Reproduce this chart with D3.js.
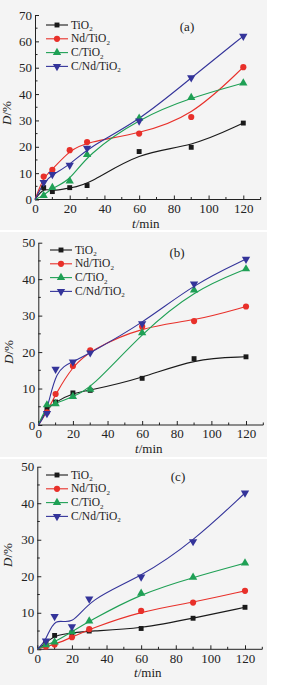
<!DOCTYPE html>
<html>
<head>
<meta charset="utf-8">
<script src="https://cdn.jsdelivr.net/npm/d3@7"></script>
<style>
  body { margin: 0; background: #fff; }
  text { font-family: "Liberation Serif", "Times New Roman", serif; }
</style>
</head>
<body>
<div id="chart"></div>
<script>
// time points (min)
var times = [0, 5, 10, 20, 30, 60, 90, 120];
var seriesNames = ["TiO2", "Nd/TiO2", "C/TiO2", "C/Nd/TiO2"];

// panel (a) D/%
var aTiO2   = [0, 4.5, 3.0, 4.5, 5.3, 18.2, 19.8, 29.0];
var aNd     = [0, 8.7, 11.3, 18.7, 21.8, 25.0, 31.3, 50.2];
var aC      = [0, 1.5, 4.5, 7.0, 17.0, 30.8, 38.7, 44.2];
var aCNd    = [0, 6.5, 9.5, 13.0, 19.5, 29.8, 46.2, 62.0];

// panel (b)
var bTiO2   = [0, 4.5, 6.3, 8.8, 9.5, 12.8, 18.2, 18.7];
var bNd     = [0, 3.5, 8.5, 16.2, 20.5, 27.0, 28.5, 32.5];
var bC      = [0, 5.5, 5.8, 7.8, 9.8, 25.3, 37.0, 42.8];
var bCNd    = [0, 3.2, 15.3, 17.3, 19.8, 27.8, 38.7, 45.5];

// panel (c)
var cTiO2   = [0, 1.8, 3.8, 4.5, 5.0, 5.7, 8.5, 11.5];
var cNd     = [0, 0.8, 1.3, 3.3, 5.5, 10.5, 12.8, 16.0];
var cC      = [0, 1.2, 2.0, 4.8, 7.7, 15.3, 19.7, 23.6];
var cCNd    = [0, 2.3, 9.0, 6.2, 13.8, 19.8, 29.5, 42.8];

var xTicks = [0, 20, 40, 60, 80, 100, 120];
var yTicksA = [0, 10, 20, 30, 40, 50, 60, 70];
var yTicksBC = [0, 10, 20, 30, 40, 50];

var colors = ["#1a1a1a", "#e8302a", "#1fa055", "#34349a"];
var symbols = [d3.symbolSquare, d3.symbolCircle, d3.symbolTriangle, "down"];

var panels = [
  {tag: "(a)", top: 0, h: 230, x0: 35, x1: 243.3, y0: 199.5, yTop: 15, yMax: 70, yTicks: yTicksA,
   data: [aTiO2, aNd, aC, aCNd], legX: 46, legY: 25, tagX: 187, tagY: 31, ylabY: 113, ylabX: 11},
  {tag: "(b)", top: 232, h: 225, x0: 38.3, x1: 246, y0: 425, yTop: 242.7, yMax: 50, yTicks: yTicksBC,
   data: [bTiO2, bNd, bC, bCNd], legX: 50, legY: 250, tagX: 177, tagY: 257, ylabY: 352, ylabX: 13},
  {tag: "(c)", top: 459, h: 226, x0: 37.3, x1: 245, y0: 649.3, yTop: 466.7, yMax: 50, yTicks: yTicksBC,
   data: [cTiO2, cNd, cC, cCNd], legX: 46, legY: 475, tagX: 178, tagY: 481, ylabY: 555, ylabX: 12}
];

var svg = d3.select("#chart").append("svg")
  .attr("width", 291)
  .attr("height", 685);

function addLabel(sel, name) {
  // writes name with subscript 2 on "O2"
  var parts = name.split("2");
  sel.append("tspan").text(parts[0]);
  sel.append("tspan").attr("font-size", "7px").attr("dy", 2.5).text("2");
}

function marker(g, i, cx, cy) {
  if (symbols[i] === "down") {
    g.append("path")
      .attr("d", d3.symbol().type(d3.symbolTriangle).size(30)())
      .attr("transform", "translate(" + cx + "," + cy + ") rotate(180)")
      .attr("fill", colors[i]);
  } else {
    var sz = i === 0 ? 24 : 30;
    g.append("path")
      .attr("d", d3.symbol().type(symbols[i]).size(sz)())
      .attr("transform", "translate(" + cx + "," + cy + ")")
      .attr("fill", colors[i]);
  }
}

panels.forEach(function(p) {
  var g = svg.append("g");

  // panel background
  g.append("rect")
    .attr("x", 0).attr("y", p.top)
    .attr("width", 267).attr("height", p.h)
    .attr("fill", "#f4f4f4");

  var x = d3.scaleLinear().domain([0, 120]).range([p.x0, p.x1]);
  var y = d3.scaleLinear().domain([0, p.yMax]).range([p.y0, p.yTop]);

  // x axis with inward ticks
  var xAxis = g.append("g").attr("transform", "translate(0," + p.y0 + ")");
  xAxis.call(d3.axisBottom(x).tickValues(xTicks).tickSize(-4).tickSizeOuter(0).tickPadding(4));
  xAxis.append("g").selectAll("line")
    .data(d3.range(10, 131, 20))
    .enter().append("line")
    .attr("x1", function(d) { return x(d); }).attr("x2", function(d) { return x(d); })
    .attr("y1", 0).attr("y2", -2.5)
    .attr("stroke", "#222");
  xAxis.select(".domain").attr("d", "M" + p.x0 + ",0H" + x(130));

  // y axis
  var yAxis = g.append("g").attr("transform", "translate(" + p.x0 + ",0)");
  yAxis.call(d3.axisLeft(y).tickValues(p.yTicks).tickSize(-4).tickSizeOuter(0).tickPadding(3));
  yAxis.append("g").selectAll("line")
    .data(d3.range(5, p.yMax, 10))
    .enter().append("line")
    .attr("y1", function(d) { return y(d); }).attr("y2", function(d) { return y(d); })
    .attr("x1", 0).attr("x2", 2.5)
    .attr("stroke", "#222");

  [xAxis, yAxis].forEach(function(a) {
    a.selectAll("text").attr("font-size", "13px").attr("fill", "#222")
      .attr("font-family", "'Liberation Serif', serif");
    a.selectAll("line").attr("stroke", "#222");
    a.select(".domain").attr("stroke", "#222");
  });

  // curves (B-spline look)
  var line = d3.line()
    .x(function(d, j) { return x(times[j]); })
    .y(function(d) { return y(d); })
    .curve(d3.curveBasis);

  p.data.forEach(function(vals, i) {
    g.append("path")
      .datum(vals)
      .attr("d", line)
      .attr("fill", "none")
      .attr("stroke", colors[i])
      .attr("stroke-width", 1.1);
  });
  p.data.forEach(function(vals, i) {
    vals.forEach(function(v, j) {
      if (j === 0) return;
      marker(g, i, x(times[j]), y(v));
    });
  });

  // legend
  seriesNames.forEach(function(name, i) {
    var ly = p.legY + i * 13.8;
    g.append("line")
      .attr("x1", p.legX).attr("x2", p.legX + 22)
      .attr("y1", ly).attr("y2", ly)
      .attr("stroke", colors[i]).attr("stroke-width", 1.1);
    marker(g, i, p.legX + 11, ly);
    var t = g.append("text")
      .attr("x", p.legX + 25).attr("y", ly + 3.5)
      .attr("font-size", "11.5px").attr("fill", "#222");
    addLabel(t, name);
  });

  // panel tag
  g.append("text")
    .attr("x", p.tagX).attr("y", p.tagY)
    .attr("text-anchor", "middle")
    .attr("font-size", "13px").attr("fill", "#222")
    .text(p.tag);

  // axis titles
  var xt = g.append("text")
    .attr("x", (p.x0 + x(130)) / 2 - 2).attr("y", p.y0 + 28)
    .attr("text-anchor", "middle")
    .attr("font-size", "13px").attr("fill", "#222");
  xt.append("tspan").attr("font-style", "italic").text("t");
  xt.append("tspan").text("/min");

  var yt = g.append("text")
    .attr("transform", "translate(" + p.ylabX + "," + p.ylabY + ") rotate(-90)")
    .attr("text-anchor", "middle")
    .attr("font-size", "13px").attr("fill", "#222");
  yt.append("tspan").attr("font-style", "italic").text("D");
  yt.append("tspan").text("/%");
});
</script>
</body>
</html>
